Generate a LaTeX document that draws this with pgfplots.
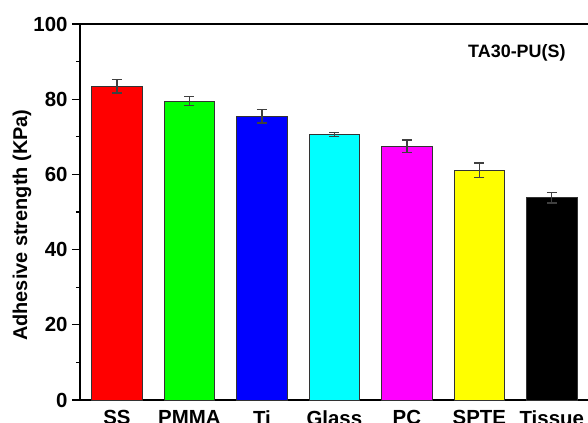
\documentclass[border=0pt]{standalone}
\usepackage{pgfplots}
\pgfplotsset{compat=1.18}
\usepackage{fontspec}
\setmainfont{Liberation Sans}
\begin{document}
\begin{tikzpicture}
\begin{axis}[
  scale only axis,
  width=508bp, height=376bp,
  at={(0,0)}, anchor=south west,
  axis x line*=box, axis y line*=left,
  axis line style={line width=1.3bp},
  xmin=-0.51, xmax=6.5,
  ymin=0, ymax=100,
  ytick={0,20,40,60,80,100},
  minor y tick num=1,
  ytick pos=left,
  tick align=outside,
  major tick length=8bp, minor tick length=4bp,
  every tick/.style={line width=1.3bp, black},
  xtick={0,1,2,3,4,5,6},
  xticklabels={SS,PMMA,Ti,Glass,PC,SPTE,Tissue},
  xticklabel pos=lower,
  x tick style={draw=none},
  /pgf/number format/assume math mode=true,
  tick label style={font=\fontsize{20.5}{24}\selectfont\bfseries},
  yticklabel style={xshift=-1bp},
  xticklabel style={yshift=1bp},
  ylabel={Adhesive strength (KPa)},
  ylabel style={font=\fontsize{20}{24}\selectfont\bfseries, at={(axis description cs:-0.114,0.465)}, anchor=center},
  ybar, bar width=0.7, bar shift=0pt,
  every axis plot/.append style={draw=black!80, line width=0.8bp},
  error bars/y dir=both, error bars/y explicit,
  error bars/error bar style={draw=black!75, line width=1.4bp},
  error bars/error mark options={rotate=90, mark size=5bp, line width=1.4bp, draw=black!75},
]
\addplot[fill={rgb,255:red,255;green,0;blue,0}] coordinates {(0,83.5) +- (0,1.8)};
\addplot[fill={rgb,255:red,0;green,255;blue,0}] coordinates {(1,79.5) +- (0,1.2)};
\addplot[fill={rgb,255:red,0;green,0;blue,255}] coordinates {(2,75.5) +- (0,1.8)};
\addplot[fill={rgb,255:red,0;green,255;blue,255}] coordinates {(3,70.6) +- (0,0.5)};
\addplot[fill={rgb,255:red,255;green,0;blue,255}] coordinates {(4,67.5) +- (0,1.6)};
\addplot[fill={rgb,255:red,255;green,255;blue,0}] coordinates {(5,61.1) +- (0,1.9)};
\addplot[fill=black] coordinates {(6,53.8) +- (0,1.4)};
\node[font=\fontsize{18}{21}\selectfont\bfseries] at (axis description cs:0.86,0.923) {TA30-PU(S)};
\end{axis}
\pgfresetboundingbox
\path[use as bounding box] (-80bp,-23bp) rectangle (508bp,400bp);
\end{tikzpicture}
\end{document}
